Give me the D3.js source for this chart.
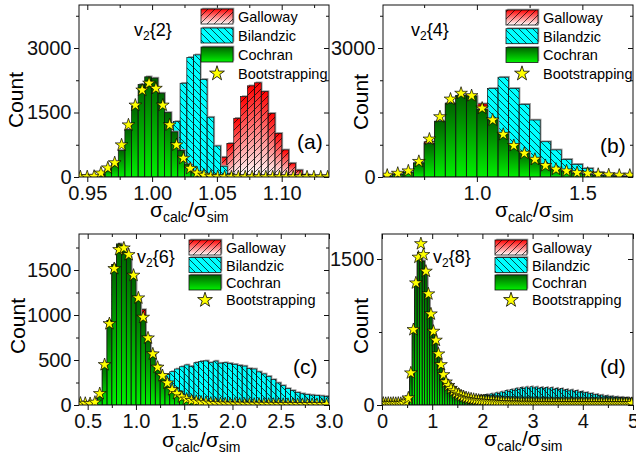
<!DOCTYPE html>
<html><head><meta charset="utf-8">
<script src="https://cdn.jsdelivr.net/npm/d3@7"></script>
<style>
body{margin:0;background:#fff;}
svg{display:block;font-family:Arial,"Liberation Sans",sans-serif;}
</style></head><body>
<svg id="c" width="636" height="457"></svg>
<script>
// ---------------- DATA ----------------
const seriesNames = ["Galloway","Bilandzic","Cochran","Bootstrapping"];

// panel (a) v2{2}
const aGalStart=1.0418, aGalWidth=0.0053, aGalCounts=[60,200,460,780,1365,1870,2120,2190,1985,1480,1015,630,320,160,50,15];
const aBilStart=1.0008, aBilWidth=0.0052, aBilCounts=[60,200,550,1290,2180,2780,2840,2270,1390,720,250,80,20];
const aCocStart=0.9535, aCocWidth=0.0051, aCocCounts=[20,60,190,330,620,1100,1650,2150,2330,2300,1950,1500,1050,620,300,130,50];
const aBootStart=0.942, aBootWidth=0.0053, aBootCounts=[5,5,15,90,210,330,745,1210,1670,2020,2180,2060,1670,1210,745,435,200,90,40,15,5,3,2,2,1,1,1,1,1,1,1,1,1,1,1,1,1];
const aXMajor=[0.95,1.00,1.05,1.10], aXLabels=["0.95","1.00","1.05","1.10"], aXMinor=[0.975,1.025,1.075,1.125];
const aYMajor=[0,1500,3000], aYLabels=["0","1500","3000"], aYMinor=[750,2250,3750];

// panel (b) v2{4}
const bStart=0.55, bWidth=0.05;
const bGalCounts=[15,50,100,320,820,1290,1700,1890,1870,1700,1320,990,750,550,410,270,170,120,80,55,35,25,15,10];
const bBilCounts=[0,0,5,20,60,180,420,800,1200,1500,2060,2320,2060,1690,1325,820,630,410,295,200,110,60,30,15];
const bCocCounts=[20,60,110,330,780,1300,1720,1900,1880,1570,1330,1000,760,560,420,280,180,130,90,60,40,30,20,15];
const bBootCounts=[40,85,140,360,880,1400,1810,1945,1890,1600,1325,990,730,550,410,265,180,140,100,85,60,50,40,40];
const bXMajor=[1.0,1.5], bXLabels=["1.0","1.5"], bXMinor=[0.75,1.25];
const bYMajor=[0,3000], bYLabels=["0","3000"], bYMinor=[750,1500,2250,3750];

// panel (c) v2{6}
const cStart=0.4, cWidth=0.05;
const cGalCounts=[0,0,5,20,100,460,940,1560,1780,1740,1640,1420,1170,1060,760,580,440,340,260,190,140,100,75,55,40,30,22,16,12,9,7,5,4,3,3,2,2,2,1,1,1,1,1,0,0,0,0,0,0,0,0,0];
const cBilCounts=[0,0,0,0,0,0,5,10,20,30,50,70,100,130,170,210,250,290,337,370,400,425,445,430,470,485,490,470,488,465,470,462,452,440,432,405,400,368,345,318,282,245,215,182,160,138,125,115,110,104,100,96];
const cCocCounts=[0,0,5,20,100,460,940,1560,1790,1760,1640,1420,1170,960,760,580,440,340,260,190,140,100,75,55,40,30,22,16,12,9,7,5,4,3,3,2,2,2,1,1,1,1,1,0,0,0,0,0,0,0,0,0];
const cBootCounts=[20,18,15,30,126,448,903,1515,1726,1744,1670,1441,1189,974,744,567,419,326,244,170,126,89,65,50,40,32,26,20,16,14,12,10,10,9,9,8,8,8,7,7,7,6,6,6,6,5,5,5,5,5,5,5];
const cXMajor=[0.5,1.0,1.5,2.0,2.5,3.0], cXLabels=["0.5","1.0","1.5","2.0","2.5","3.0"], cXMinor=[0.75,1.25,1.75,2.25,2.75];
const cYMajor=[0,500,1000,1500], cYLabels=["0","500","1000","1500"], cYMinor=[250,750,1250,1750];

// panel (d) v2{8}
const dStart=0, dWidth=0.05;
const dGalCounts=[0,0,0,0,0,0,0,0,0,0, 60,300,760,1240,1500,1530,1480,1340,1130,930, 760,640,510,400,300,230,180,140,110,85, 65,50,38,28,20,15,11,8,6,4, 3,3,2,2,2,1,1,1,1,1, 0,0,0,0,0,0,0,0,0,0, 0,0,0,0,0,0,0,0,0,0, 0,0,0,0,0,0,0,0,0,0, 0,0,0,0,0,0,0,0,0,0, 0,0,0,0,0,0,0,0,0,0];
const dBilCounts=[0,0,0,0,0,0,0,0,0,0, 0,0,0,0,0,0,0,0,0,0, 5,8,12,16,20,25,30,36,42,48, 55,60,66,70,76,80,86,90,95,98, 100,108,100,115,110,125,118,135,128,150, 140,160,150,172,160,180,168,185,172,188, 175,185,170,182,168,180,165,178,160,172, 158,168,152,160,145,155,140,148,132,140, 125,130,115,120,105,110,98,102,90,95, 85,90,80,84,76,80,72,76,68,70];
const dCocCounts=[0,0,0,0,0,0,0,0,0,0, 60,300,760,1240,1500,1530,1480,1340,1130,930, 760,640,510,400,300,230,180,140,110,85, 65,50,38,28,20,15,11,8,6,4, 3,3,2,2,2,1,1,1,1,1, 0,0,0,0,0,0,0,0,0,0, 0,0,0,0,0,0,0,0,0,0, 0,0,0,0,0,0,0,0,0,0, 0,0,0,0,0,0,0,0,0,0, 0,0,0,0,0,0,0,0,0,0];
const dBootCounts=[18,16,18,16,18,16,18,16,18,30, 72,329,774,1254,1518,1657,1545,1374,1141,935, 757,665,524,414,311,236,200,170,145,125, 110,95,85,75,68,62,57,52,48,45, 42,40,38,36,34,32,30,28,26,25, 24,22,22,20,20,20,18,18,18,18, 17,17,17,16,16,16,16,16,15,15, 15,15,15,15,15,15,15,15,15,15, 15,15,15,15,15,15,15,15,15,15, 15,15,15,15,15,15,15,15,15,15];
const dXMajor=[0,1,2,3,4,5], dXLabels=["0","1","2","3","4","5"], dXMinor=[0.5,1.5,2.5,3.5,4.5];
const dYMajor=[0,1500], dYLabels=["0","1500"], dYMinor=[750];

// ---------------- LAYOUT ----------------
const panels=[
 {id:"a",box:[79,5,329,177],xDom:[0.9436,1.1365],yDom:[0,4000],
  gal:{start:aGalStart,width:aGalWidth,counts:aGalCounts},bil:{start:aBilStart,width:aBilWidth,counts:aBilCounts},
  coc:{start:aCocStart,width:aCocWidth,counts:aCocCounts},boot:{start:aBootStart,width:aBootWidth,counts:aBootCounts},
  xMaj:aXMajor,xLab:aXLabels,xMin:aXMinor,yMaj:aYMajor,yLab:aYLabels,yMin:aYMinor,
  leg:{x:201,y:9,step:19},tag:{x:297,y:149,t:"(a)"},vl:{x:134,y:36,n:"2"},xt:{x:150,y:217},yt:{x:23,y:100}},
 {id:"b",box:[383,5,633,177],xDom:[0.555,1.74],yDom:[0,4000],
  gal:{start:bStart,width:bWidth,counts:bGalCounts},bil:{start:bStart,width:bWidth,counts:bBilCounts},
  coc:{start:bStart,width:bWidth,counts:bCocCounts},boot:{start:bStart,width:bWidth,counts:bBootCounts},
  xMaj:bXMajor,xLab:bXLabels,xMin:bXMinor,yMaj:bYMajor,yLab:bYLabels,yMin:bYMinor,
  leg:{x:506,y:10,step:18.7},tag:{x:600,y:153,t:"(b)"},vl:{x:411,y:36,n:"4"},xt:{x:495,y:217},yt:{x:368,y:102}},
 {id:"c",box:[79,234,329,405],xDom:[0.41,3.0],yDom:[0,1900],
  gal:{start:cStart,width:cWidth,counts:cGalCounts},bil:{start:cStart,width:cWidth,counts:cBilCounts},
  coc:{start:cStart,width:cWidth,counts:cCocCounts},boot:{start:cStart,width:cWidth,counts:cBootCounts},
  xMaj:cXMajor,xLab:cXLabels,xMin:cXMinor,yMaj:cYMajor,yLab:cYLabels,yMin:cYMinor,
  leg:{x:189,y:240,step:17.5},tag:{x:293,y:374,t:"(c)"},vl:{x:137,y:263,n:"6"},xt:{x:162,y:447},yt:{x:25,y:326}},
 {id:"d",box:[382,234,633,405],xDom:[0,5],yDom:[0,1757],
  gal:{start:dStart,width:dWidth,counts:dGalCounts},bil:{start:dStart,width:dWidth,counts:dBilCounts},
  coc:{start:dStart,width:dWidth,counts:dCocCounts},boot:{start:dStart,width:dWidth,counts:dBootCounts},
  xMaj:dXMajor,xLab:dXLabels,xMin:dXMinor,yMaj:dYMajor,yLab:dYLabels,yMin:dYMinor,
  leg:{x:495,y:240,step:17.5},tag:{x:600,y:374,t:"(d)"},vl:{x:433,y:263,n:"8"},xt:{x:484,y:446},yt:{x:368,y:326}}
];

const svg=d3.select("#c");
const defs=svg.append("defs");
function grad(id,c0,c1){const g=defs.append("linearGradient").attr("id",id).attr("x1",0).attr("y1",0).attr("x2",0).attr("y2",1);
 g.append("stop").attr("offset","0%").attr("stop-color",c0);g.append("stop").attr("offset","100%").attr("stop-color",c1);}
grad("gRed","#ff0000","#ffffff");
grad("gGreen","#006400","#00f000");
function hatch(id,d){const p=defs.append("pattern").attr("id",id).attr("patternUnits","userSpaceOnUse").attr("width",7).attr("height",7);
 p.append("path").attr("d",d).attr("stroke","#000").attr("stroke-width",0.7).attr("fill","none");}
hatch("hF","M-1,1 L1,-1 M0,7 L7,0 M6,8 L8,6");
hatch("hB","M-1,6 L1,8 M0,0 L7,7 M6,-1 L8,1");

const styles=[{key:"gal",fill:"url(#gRed)",pat:"url(#hF)"},{key:"bil",fill:"#00ffff",pat:"url(#hB)"},{key:"coc",fill:"url(#gGreen)",pat:null}];
const star=d3.symbol(d3.symbolStar,50);
const starL=d3.symbol(d3.symbolStar,68);

panels.forEach(p=>{
 const [x0,y0,x1,y1]=p.box;
 const xs=d3.scaleLinear().domain(p.xDom).range([x0,x1]);
 const ys=d3.scaleLinear().domain(p.yDom).range([y1,y0]);
 defs.append("clipPath").attr("id","clip"+p.id).append("rect").attr("x",x0).attr("y",y0).attr("width",x1-x0).attr("height",y1-y0);
 const pg=svg.append("g").attr("clip-path","url(#clip"+p.id+")");
 styles.forEach(st=>{
  const s=p[st.key];
  const data=s.counts.map((c,i)=>({a:s.start+i*s.width,b:s.start+(i+1)*s.width,c})).filter(d=>d.c>0);
  const g=pg.append("g");
  const R=sel=>sel.attr("x",d=>xs(d.a)).attr("y",d=>ys(d.c)).attr("width",d=>xs(d.b)-xs(d.a)).attr("height",d=>ys(0)-ys(d.c));
  g.selectAll("rect.sh").data(data).join("rect").attr("class","sh").call(R).attr("transform","translate(1.3,-1.3)").attr("fill","#9a9a9a");
  g.selectAll("rect.bf").data(data).join("rect").attr("class","bf").call(R).attr("fill",st.fill);
  if(st.pat) g.selectAll("rect.bp").data(data).join("rect").attr("class","bp").call(R).attr("fill",st.pat);
  g.selectAll("rect.bo").data(data).join("rect").attr("class","bo").call(R).attr("fill","none").attr("stroke","#111").attr("stroke-width",0.7);
 });
 const sb=p.boot;
 pg.append("g").selectAll("path").data(sb.counts.map((c,i)=>({x:sb.start+(i+0.5)*sb.width,c}))).join("path")
  .attr("d",star).attr("transform",d=>`translate(${xs(d.x)},${ys(d.c)})`)
  .attr("fill","#ffff00").attr("stroke","#000").attr("stroke-width",0.7);
 // frame
 svg.append("rect").attr("x",x0).attr("y",y0).attr("width",x1-x0).attr("height",y1-y0).attr("fill","none").attr("stroke","#111").attr("stroke-width",1);
 const fix=g=>{g.select(".domain").remove();g.attr("font-family",null).attr("font-size",20).attr("color","#111");};
 svg.append("g").attr("transform",`translate(0,${y1})`).call(d3.axisBottom(xs).tickValues(p.xMaj).tickFormat((d,i)=>p.xLab[i]).tickSize(5).tickPadding(3.5)).call(fix);
 svg.append("g").attr("transform",`translate(0,${y1})`).call(d3.axisBottom(xs).tickValues(p.xMin).tickFormat("").tickSize(3)).call(fix);
 svg.append("g").attr("transform",`translate(0,${y0})`).call(d3.axisTop(xs).tickValues(p.xMaj).tickFormat("").tickSize(-5)).call(fix);
 svg.append("g").attr("transform",`translate(0,${y0})`).call(d3.axisTop(xs).tickValues(p.xMin).tickFormat("").tickSize(-3)).call(fix);
 svg.append("g").attr("transform",`translate(${x0},0)`).call(d3.axisLeft(ys).tickValues(p.yMaj).tickFormat((d,i)=>p.yLab[i]).tickSize(5).tickPadding(2.5)).call(fix);
 svg.append("g").attr("transform",`translate(${x0},0)`).call(d3.axisLeft(ys).tickValues(p.yMin).tickFormat("").tickSize(3)).call(fix);
 svg.append("g").attr("transform",`translate(${x1},0)`).call(d3.axisRight(ys).tickValues(p.yMaj).tickFormat("").tickSize(-5)).call(fix);
 svg.append("g").attr("transform",`translate(${x1},0)`).call(d3.axisRight(ys).tickValues(p.yMin).tickFormat("").tickSize(-3)).call(fix);
 // legend
 const L=p.leg;
 styles.forEach((st,i)=>{
  const y=L.y+i*L.step;
  svg.append("rect").attr("x",L.x+1.3).attr("y",y-1.3).attr("width",32).attr("height",15).attr("fill","#9a9a9a");
  svg.append("rect").attr("x",L.x).attr("y",y).attr("width",32).attr("height",15).attr("fill",st.fill);
  if(st.pat) svg.append("rect").attr("x",L.x).attr("y",y).attr("width",32).attr("height",15).attr("fill",st.pat);
  svg.append("rect").attr("x",L.x).attr("y",y).attr("width",32).attr("height",15).attr("fill","none").attr("stroke","#111").attr("stroke-width",0.8);
  svg.append("text").attr("x",L.x+37).attr("y",y+13).attr("font-size",14.5).text(seriesNames[i]);
 });
 const ys3=L.y+3*L.step+7.5;
 svg.append("path").attr("d",starL).attr("transform",`translate(${L.x+16},${ys3})`).attr("fill","#ffff00").attr("stroke","#000").attr("stroke-width",0.8);
 svg.append("text").attr("x",L.x+37).attr("y",ys3+5).attr("font-size",14.5).text(seriesNames[3]);
 // labels
 svg.append("text").attr("x",p.tag.x).attr("y",p.tag.y).attr("font-size",21).text(p.tag.t);
 const vt=svg.append("text").attr("x",p.vl.x).attr("y",p.vl.y).attr("font-size",18);
 vt.append("tspan").text("v");
 vt.append("tspan").attr("font-size",12).attr("dy",4).text("2");
 vt.append("tspan").attr("dy",-4).text("{"+p.vl.n+"}");
 const xt=svg.append("text").attr("x",p.xt.x).attr("y",p.xt.y).attr("font-size",21);
 xt.append("tspan").text("σ");
 xt.append("tspan").attr("font-size",14).attr("dy",5).text("calc");
 xt.append("tspan").attr("dy",-5).text("/σ");
 xt.append("tspan").attr("font-size",14).attr("dy",5).text("sim");
 svg.append("text").attr("transform",`translate(${p.yt.x},${p.yt.y}) rotate(-90)`).attr("text-anchor","middle").attr("font-size",21).text("Count");
});
</script>
</body></html>
